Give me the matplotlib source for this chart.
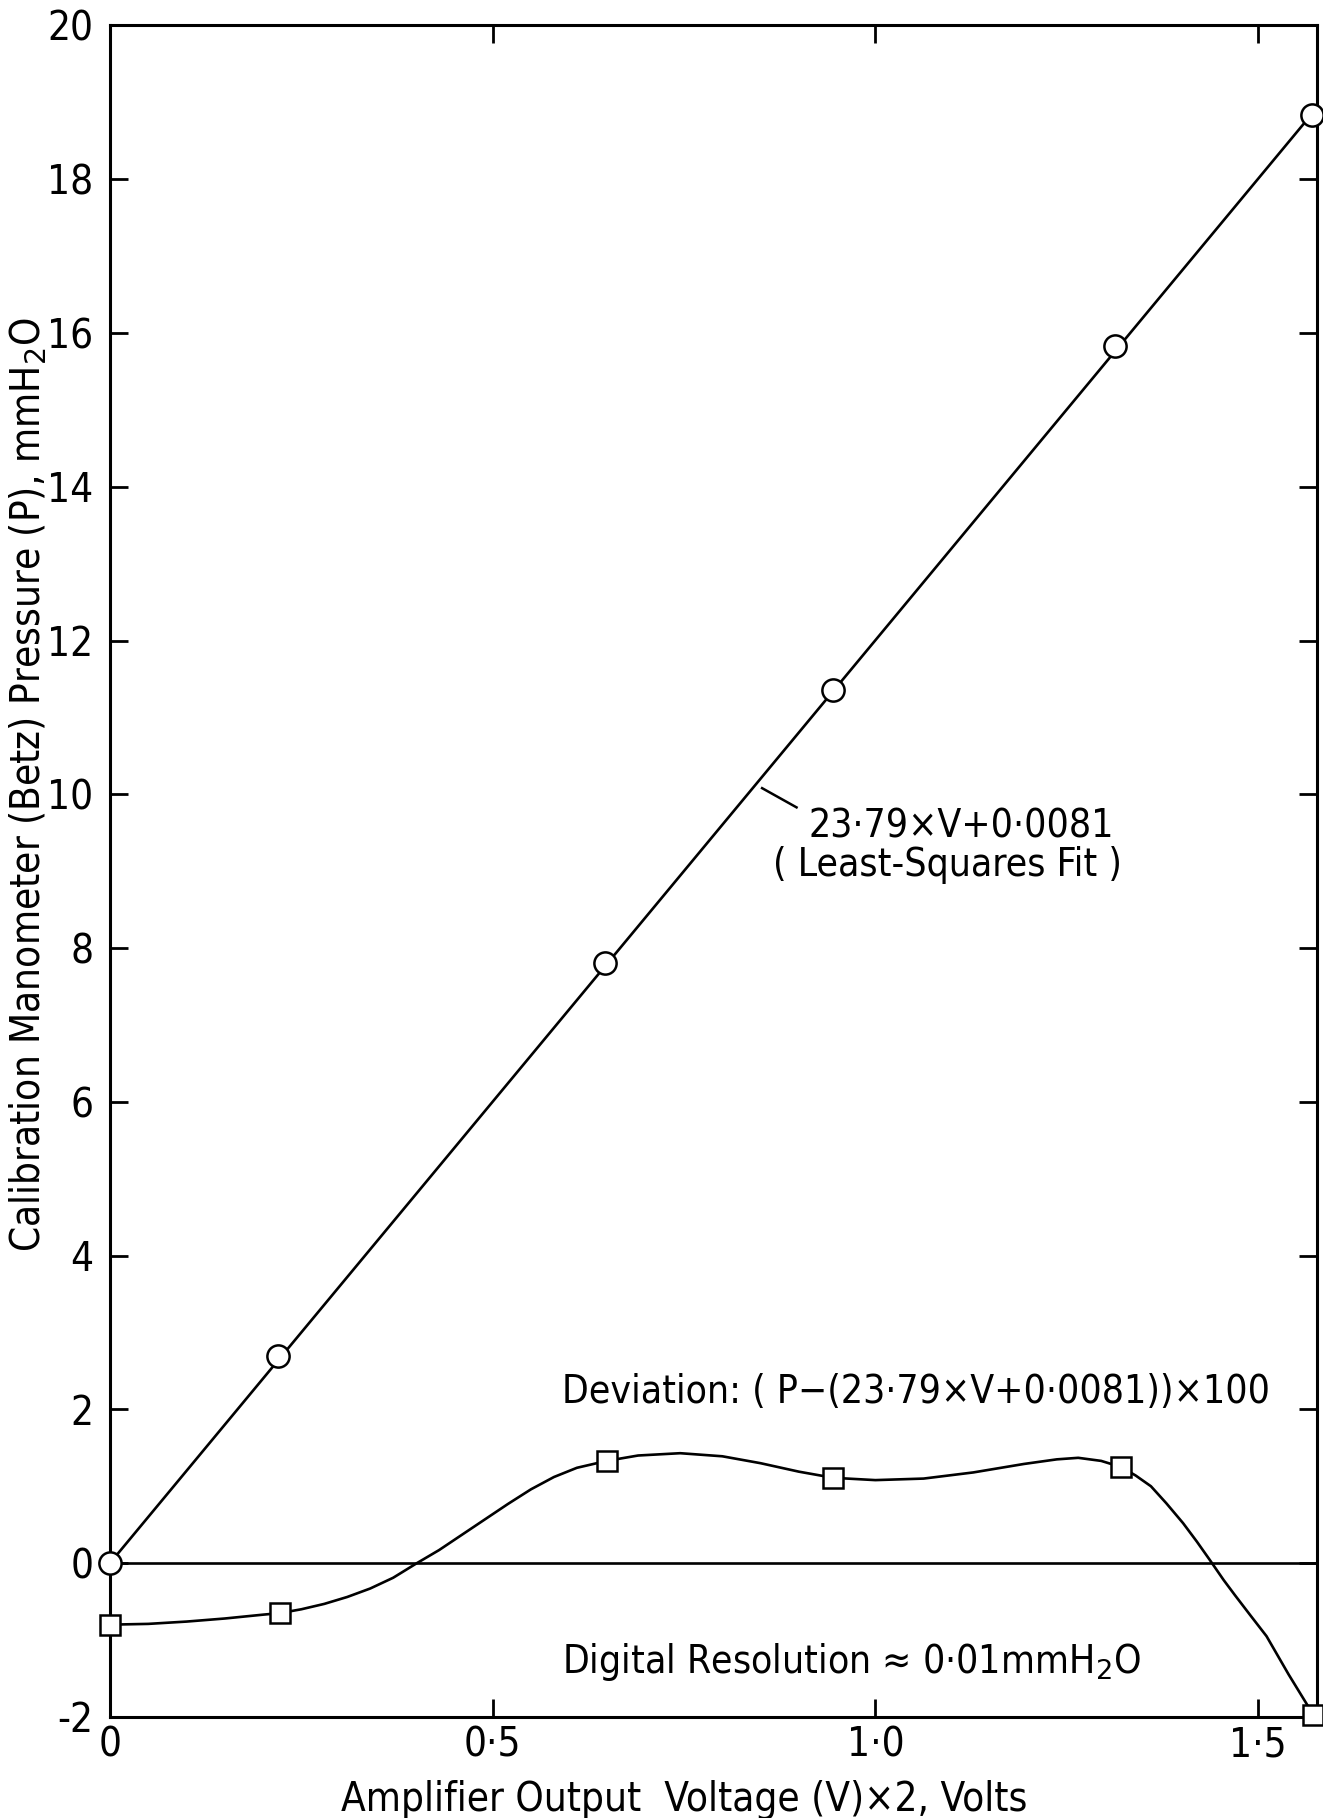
import matplotlib
matplotlib.use("Agg")
import matplotlib.pyplot as plt

# calibration points (circles): x = amplifier output (V)x2, y = Betz pressure mmH2O
cal_v = [0.0, 0.220, 0.647, 0.944, 1.313, 1.571]
cal_p = [0.0, 2.69, 7.81, 11.36, 15.83, 18.83]

# least-squares fit line end points, as drawn
fit_v = [0.0, 1.577]
fit_p = [0.0, 18.93]

# deviation points (squares), x100
dev_v = [0.0, 0.222, 0.649, 0.945, 1.321, 1.572]
dev_p = [-0.80, -0.65, 1.33, 1.11, 1.25, -1.97]

# hand drawn deviation curve
curve_v = [0.000, 0.050, 0.100, 0.150, 0.200, 0.222, 0.250, 0.280, 0.310, 0.340,
           0.370, 0.401, 0.430, 0.460, 0.490, 0.520, 0.550, 0.580, 0.610, 0.649,
           0.690, 0.745, 0.800, 0.850, 0.900, 0.945, 1.000, 1.063, 1.128, 1.194,
           1.237, 1.265, 1.295, 1.321, 1.340, 1.360, 1.380, 1.402, 1.420, 1.437,
           1.455, 1.470, 1.490, 1.511, 1.540, 1.572]
curve_p = [-0.80, -0.79, -0.76, -0.72, -0.67, -0.65, -0.60, -0.53, -0.44, -0.33,
           -0.19, 0.00, 0.17, 0.37, 0.57, 0.77, 0.96, 1.12, 1.24, 1.33,
           1.40, 1.43, 1.39, 1.30, 1.19, 1.11, 1.08, 1.10, 1.18, 1.29,
           1.35, 1.37, 1.33, 1.25, 1.14, 1.00, 0.78, 0.52, 0.28, 0.04,
           -0.22, -0.42, -0.68, -0.95, -1.45, -1.97]

xticks = [0.0, 0.5, 1.0, 1.5]
xticklabels = ["0", "0\u00b75", "1\u00b70", "1\u00b75"]
yticks = list(range(-2, 21, 2))
yticklabels = [str(t) for t in yticks]

FONT = dict(family="DejaVu Sans", fontstretch="condensed")
LW = 1.9

fig = plt.figure(figsize=(13.23, 18.18), dpi=100)
ax = fig.add_axes([0.0831, 0.0556, 0.9124, 0.9304])

ax.axhline(0, color="black", lw=LW)
ax.plot(fit_v, fit_p, color="black", lw=LW)
ax.plot(cal_v, cal_p, "o", ms=16, mfc="white", mec="black", mew=1.8, clip_on=False, zorder=5)
ax.plot(curve_v, curve_p, color="black", lw=LW, solid_joinstyle="round")
ax.plot(dev_v, dev_p, "s", ms=15, mfc="white", mec="black", mew=1.8, clip_on=False, zorder=5)

ax.set_xlim(0, 1.577)
ax.set_ylim(-2, 20)
ax.set_xticks(xticks)
ax.set_xticklabels(xticklabels, **FONT)
ax.set_yticks(yticks)
ax.set_yticklabels(yticklabels, **FONT)
ax.tick_params(direction="in", length=13, width=2, top=True, right=True,
               labelsize=29)
ax.tick_params(axis="x", pad=6)
ax.tick_params(axis="y", pad=12)
for s in ax.spines.values():
    s.set_linewidth(2.2)

# annotations
ax.plot([0.852, 0.897], [10.08, 9.83], color="black", lw=1.8)
ax.text(0.912, 9.44, "23\u00b779\u00d7V+0\u00b70081", fontsize=28, ha="left", va="baseline", **FONT)
ax.text(0.866, 8.94, "( Least-Squares Fit )", fontsize=28, ha="left", va="baseline", **FONT)
ax.text(0.591, 2.23, "Deviation: ( P\u2212(23\u00b779\u00d7V+0\u00b70081))\u00d7100",
        fontsize=28, ha="left", va="center", **FONT)
ax.text(0.591, -1.28, "Digital Resolution \u2248 0\u00b701mmH$_2$O",
        fontsize=28, ha="left", va="center", **FONT)

ax.set_xlabel("Amplifier Output  Voltage (V)\u00d72, Volts", fontsize=29, **FONT)
ax.xaxis.set_label_coords(0.4755, -0.037)
ax.set_ylabel("Calibration Manometer (Betz) Pressure (P), mmH$_2$O", fontsize=29, **FONT)
ax.yaxis.set_label_coords(-0.05, 0.551)

fig.savefig("out.png", dpi=100)
plt.close()
